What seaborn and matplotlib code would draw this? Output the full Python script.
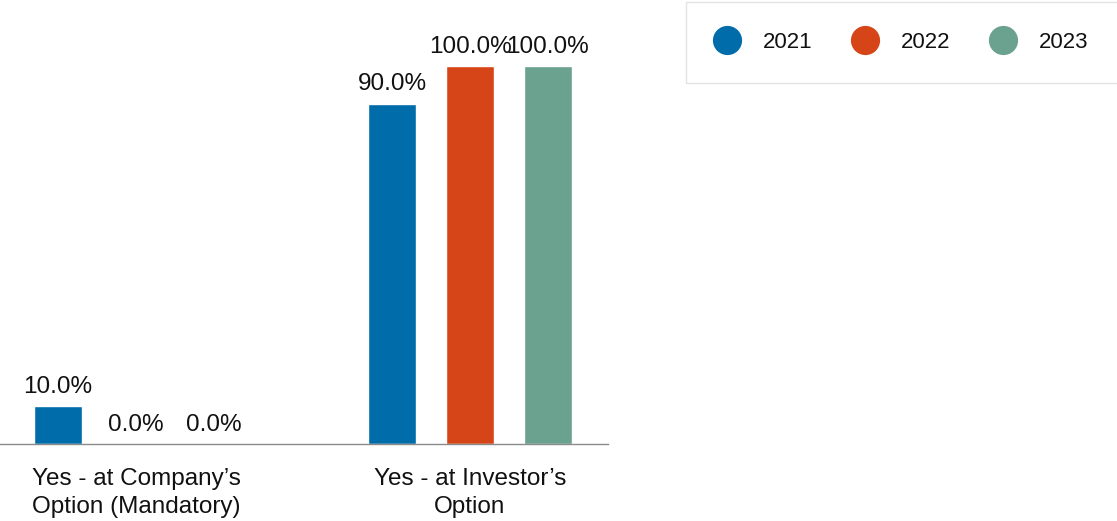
import matplotlib
matplotlib.use("Agg")
import matplotlib.pyplot as plt
from matplotlib.lines import Line2D
import seaborn as sns
import pandas as pd

categories = ["Yes - at Company\u2019s\nOption (Mandatory)", "Yes - at Investor\u2019s\nOption"]
years = ["2021", "2022", "2023"]
values_2021 = [10.0, 90.0]
values_2022 = [0.0, 100.0]
values_2023 = [0.0, 100.0]
colors = ["#006DAA", "#D64517", "#6BA18F"]

rows = []
for year, vals in zip(years, [values_2021, values_2022, values_2023]):
    for cat, v in zip(categories, vals):
        rows.append({"category": cat, "year": year, "value": v})
df = pd.DataFrame(rows)

sns.set_style("white")
plt.rcParams["font.family"] = ["Liberation Sans", "DejaVu Sans"]

fig = plt.figure(figsize=(11.17, 5.21), dpi=100)
ax = fig.add_axes([0.0, 0.1478, 0.5443, 0.798])

sns.barplot(data=df, x="category", y="value", hue="year", palette=colors,
            width=0.7, gap=0.38, ax=ax, legend=False, saturation=1)

for container in ax.containers:
    ax.bar_label(container, labels=[f"{b.get_height():.1f}%" for b in container],
                 padding=6, fontsize=17.5, color="#111111")

ax.set_xlim(-0.407, 1.413)
ax.set_ylim(0, 110)
ax.set_xlabel("")
ax.set_ylabel("")
ax.set_yticks([])
ax.tick_params(axis="x", length=0, labelsize=17.5, pad=17, colors="#111111")
for lbl in ax.get_xticklabels():
    lbl.set_linespacing(1.38)
for side in ["top", "left", "right"]:
    ax.spines[side].set_visible(False)
ax.spines["bottom"].set_color("#8a8a8a")
ax.spines["bottom"].set_linewidth(1.0)

handles = [Line2D([0], [0], marker="o", linestyle="", markersize=20,
                  markerfacecolor=c, markeredgecolor=c) for c in colors]
leg = fig.legend(handles, years, loc="upper left", bbox_to_anchor=(0.614, 0.996),
                 ncol=3, fontsize=16, frameon=True, fancybox=False,
                 borderpad=1.35, handlelength=1.0, handletextpad=1.13,
                 columnspacing=1.85, borderaxespad=0, labelcolor="#111111")
leg.get_frame().set_edgecolor("#dddddd")
leg.get_frame().set_linewidth(1.0)

fig.savefig("out.png", dpi=100)
